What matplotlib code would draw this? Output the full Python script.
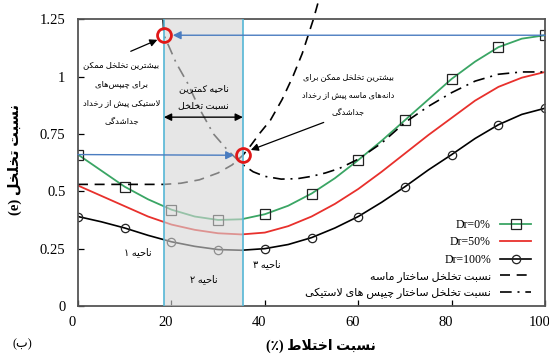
import numpy as np
import matplotlib
matplotlib.use("Agg")
import matplotlib.pyplot as plt
import matplotlib.transforms as mtransforms

plt.rcParams['font.family'] = ['Liberation Serif', 'DejaVu Sans']

# نسبت اختلاط (درصد) و نسبت تخلخل برای سه تراکم نسبی
mix = [0, 5, 10, 15, 20, 25, 30, 35, 40, 45, 50, 55, 60, 65, 70, 75, 80, 85, 90, 95, 100]
e_dr0 = [0.66, 0.59, 0.52, 0.465, 0.42, 0.39, 0.375, 0.378, 0.40, 0.437, 0.49,
         0.557, 0.636, 0.72, 0.81, 0.90, 0.99, 1.065, 1.128, 1.165, 1.18]
e_dr50 = [0.525, 0.48, 0.435, 0.39, 0.355, 0.332, 0.317, 0.312, 0.32, 0.348, 0.39,
          0.445, 0.51, 0.585, 0.665, 0.745, 0.82, 0.895, 0.955, 0.995, 1.02]
e_dr100 = [0.39, 0.367, 0.34, 0.308, 0.28, 0.26, 0.246, 0.243, 0.25, 0.268, 0.298,
           0.34, 0.39, 0.452, 0.52, 0.593, 0.66, 0.73, 0.79, 0.835, 0.862]

# نسبت تخلخل ساختار ماسه
sand_x = [0, 18.4, 22, 26, 30, 33, 35.3, 37, 39, 41.2, 43.7, 46, 48, 50.4, 51.5]
sand_e = [0.53, 0.53, 0.535, 0.55, 0.58, 0.615, 0.657, 0.70, 0.755, 0.81, 0.90,
          1.00, 1.10, 1.25, 1.33]

# نسبت تخلخل ساختار چیپس های لاستیکی
rub_x = [18.2, 18.4, 19.5, 21, 23.5, 26, 29, 32, 35, 37.5, 40, 43.5, 47, 50, 53,
         56, 60, 65, 70, 75, 80, 85, 90, 95, 100]
rub_e = [1.25, 1.18, 1.13, 1.06, 0.97, 0.86, 0.75, 0.68, 0.62, 0.585, 0.565, 0.553,
         0.555, 0.565, 0.58, 0.60, 0.64, 0.71, 0.80, 0.87, 0.93, 0.98, 1.01, 1.02, 1.02]

zone_lo, zone_hi = 18.4, 35.3
e_rub_max = 1.18
e_sand_max = 0.657

xticks = [0, 20, 40, 60, 80, 100]
yticks = [0, 0.25, 0.5, 0.75, 1, 1.25]

# شکل‌های حروف: جدا، پایانی، آغازی، میانی
FORMS = {
    'ا': '\ufe8d\ufe8e', 'آ': '\ufe81\ufe82', 'د': '\ufea9\ufeaa', 'ذ': '\ufeab\ufeac',
    'ر': '\ufead\ufeae', 'ز': '\ufeaf\ufeb0', 'ژ': '\ufb8a\ufb8b', 'و': '\ufeed\ufeee',
    'ب': '\ufe8f\ufe90\ufe91\ufe92', 'پ': '\ufb56\ufb57\ufb58\ufb59',
    'ت': '\ufe95\ufe96\ufe97\ufe98', 'ث': '\ufe99\ufe9a\ufe9b\ufe9c',
    'ج': '\ufe9d\ufe9e\ufe9f\ufea0', 'چ': '\ufb7a\ufb7b\ufb7c\ufb7d',
    'ح': '\ufea1\ufea2\ufea3\ufea4', 'خ': '\ufea5\ufea6\ufea7\ufea8',
    'س': '\ufeb1\ufeb2\ufeb3\ufeb4', 'ش': '\ufeb5\ufeb6\ufeb7\ufeb8',
    'ص': '\ufeb9\ufeba\ufebb\ufebc', 'ض': '\ufebd\ufebe\ufebf\ufec0',
    'ط': '\ufec1\ufec2\ufec3\ufec4', 'ظ': '\ufec5\ufec6\ufec7\ufec8',
    'ع': '\ufec9\ufeca\ufecb\ufecc', 'غ': '\ufecd\ufece\ufecf\ufed0',
    'ف': '\ufed1\ufed2\ufed3\ufed4', 'ق': '\ufed5\ufed6\ufed7\ufed8',
    'ک': '\ufb8e\ufb8f\ufb90\ufb91', 'گ': '\ufb92\ufb93\ufb94\ufb95',
    'ل': '\ufedd\ufede\ufedf\ufee0', 'م': '\ufee1\ufee2\ufee3\ufee4',
    'ن': '\ufee5\ufee6\ufee7\ufee8', 'ه': '\ufee9\ufeea\ufeeb\ufeec',
    'ی': '\ufbfc\ufbfd\ufbfe\ufbff',
}
MIRROR = str.maketrans('()', ')(')


def fa(text):
    # چسباندن حروف و برگرداندن ترتیب برای نمایش راست به چپ
    lines = []
    for line in text.split('\n'):
        out = []
        n = len(line)
        i = 0
        while i < n:
            c = line[i]
            if c not in FORMS:
                out.append(c)
                i += 1
                continue
            prev = line[i - 1] if i > 0 else ''
            link_prev = len(FORMS.get(prev, '')) == 4
            if c == 'ل' and i + 1 < n and line[i + 1] == 'ا':
                out.append('\ufefc' if link_prev else '\ufefb')
                i += 2
                continue
            nxt = line[i + 1] if i + 1 < n else ''
            link_next = len(FORMS[c]) == 4 and nxt in FORMS
            f = FORMS[c]
            if link_prev and link_next:
                out.append(f[3])
            elif link_prev:
                out.append(f[1])
            elif link_next:
                out.append(f[2])
            else:
                out.append(f[0])
            i += 1
        s = ''.join(out).replace('\u200c', '')
        lines.append(s[::-1].translate(MIRROR))
    return '\n'.join(lines)


fig = plt.figure(figsize=(5.49, 3.55), dpi=100)
ax = fig.add_axes([0.142, 0.138, 0.851, 0.808])

green = '#3aa564'
red = '#e8302c'
blue = '#4a7cc0'
cyan = '#55b6d6'

ax.plot(mix, e_dr0, color=green, lw=1.3, marker='s', markevery=2, ms=6.5,
        mfc='none', mec='#222222', mew=0.9, label='Dr=0%', zorder=2)
ax.plot(mix, e_dr50, color=red, lw=1.3, label='Dr=50%', zorder=2)
ax.plot(mix, e_dr100, color='black', lw=1.2, marker='o', markevery=2, ms=6,
        mfc='none', mec='#222222', mew=0.9, label='Dr=100%', zorder=2)
ax.plot(sand_x, sand_e, color='black', lw=1.2, ls=(0, (6, 4)), clip_on=False,
        label=fa('نسبت تخلخل ساختار ماسه'), zorder=2)
ax.plot(rub_x, rub_e, color='black', lw=1.2, ls=(0, (7, 3.5, 1.2, 3.5)),
        label=fa('نسبت تخلخل ساختار چیپس های لاستیکی'), zorder=2)

# ناحیه کمترین نسبت تخلخل
ax.axvspan(zone_lo, zone_hi, facecolor='#d6d6d6', alpha=0.6, lw=0, zorder=3)
ax.axvline(zone_lo, color=cyan, lw=1.2, zorder=4)
ax.axvline(zone_hi, color=cyan, lw=1.2, zorder=4)

# پیکان‌های افقی آبی
ax.annotate('', xy=(zone_lo + 1.9, e_rub_max), xytext=(mix[-1], e_dr0[-1]),
            arrowprops=dict(arrowstyle='-|>', color=blue, lw=1.0,
                            mutation_scale=12, shrinkA=0, shrinkB=0), zorder=5)
ax.annotate('', xy=(zone_hi - 1.9, e_sand_max), xytext=(mix[0], e_dr0[0]),
            arrowprops=dict(arrowstyle='-|>', color=blue, lw=1.0,
                            mutation_scale=12, shrinkA=0, shrinkB=0), zorder=5)

ax.plot([zone_lo, zone_hi], [e_rub_max, e_sand_max], ls='none', marker='o', ms=10,
        mfc='none', mec='#e01818', mew=2.0, zorder=6, clip_on=False)

# توضیحات
ax.text(9.3, 0.925, fa('بیشترین تخلخل ممکن\nبرای چیپس‌های\nلاستیکی پیش از رخداد\nجداشدگی'),
        ha='center', va='center', fontsize=6.1, linespacing=2.8, zorder=6)
ax.annotate('', xy=(17.0, 1.16), xytext=(11.3, 1.11),
            arrowprops=dict(arrowstyle='-|>', color='black', lw=0.9,
                            mutation_scale=11, shrinkA=0, shrinkB=0), zorder=6)

ax.text(26.9, 0.91, fa('ناحیه کمترین\nنسبت تخلخل'), ha='center', va='center',
        fontsize=6.8, linespacing=2.4, zorder=6)
ax.annotate('', xy=(zone_lo, 0.823), xytext=(zone_hi, 0.823),
            arrowprops=dict(arrowstyle='<|-|>', color='black', lw=1.0,
                            mutation_scale=11, shrinkA=0, shrinkB=0), zorder=6)

ax.text(57.9, 0.92, fa('بیشترین تخلخل ممکن برای\nدانه‌های ماسه پیش از رخداد\nجداشدگی'),
        ha='center', va='center', fontsize=5.9, linespacing=2.65, zorder=6)
ax.annotate('', xy=(37.0, 0.68), xytext=(52.6, 0.80),
            arrowprops=dict(arrowstyle='-|>', color='black', lw=0.9,
                            mutation_scale=11, shrinkA=0, shrinkB=0), zorder=6)

ax.text(12.8, 0.235, fa('ناحیه ۱'), ha='center', va='center', fontsize=7, zorder=6)
ax.text(27.0, 0.118, fa('ناحیه ۲'), ha='center', va='center', fontsize=7, zorder=6)
ax.text(40.5, 0.183, fa('ناحیه ۳'), ha='center', va='center', fontsize=7, zorder=6)

ax.set_xlim(0, 100)
ax.set_ylim(0, 1.25)
ax.set_xticks(xticks)
ax.set_yticks(yticks)
ax.set_yticklabels(['%g' % v for v in yticks])
ax.tick_params(direction='in', length=4, width=0.9, labelsize=10.5, top=False, right=False)
ax.tick_params(axis='x', pad=7)
ax.tick_params(axis='y', pad=9)
shift = mtransforms.ScaledTranslation(-4 / 72, 0, fig.dpi_scale_trans)
for lbl in ax.get_xticklabels():
    lbl.set_transform(lbl.get_transform() + shift)
for sp in ax.spines.values():
    sp.set_color('#555555')
    sp.set_linewidth(1.3)

ax.set_xlabel(fa('نسبت اختلاط (٪)'), fontsize=10, fontweight='bold')
ax.xaxis.set_label_coords(0.52, -0.115)
ax.set_ylabel(fa('نسبت تخلخل (e)'), fontsize=10.5, fontweight='bold')
ax.yaxis.set_label_coords(-0.12, 0.51)
fig.text(0.04, 0.03, fa('(ب)'), fontsize=9, ha='center', va='center')

leg = ax.legend(loc='lower right', bbox_to_anchor=(0.985, 0.0), frameon=False,
                markerfirst=False, handlelength=2.6, fontsize=8.5,
                labelspacing=0.45, borderaxespad=0.2)
for t in leg.get_texts()[3:]:
    t.set_fontsize(8)

fig.savefig('out.png', dpi=100)
